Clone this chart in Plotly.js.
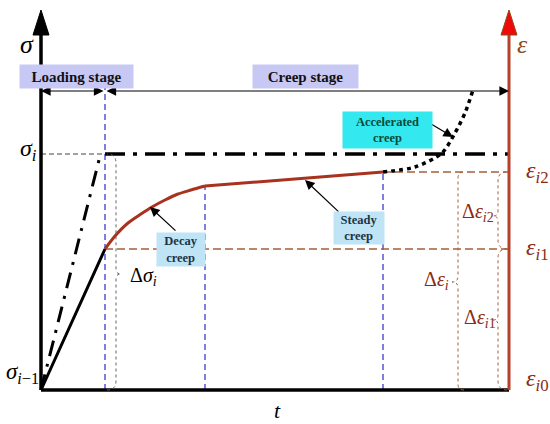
<!DOCTYPE html>
<html>
<head>
<meta charset="utf-8">
<script src="https://cdn.plot.ly/plotly-3.0.1.min.js"></script>
<style>
  html, body { margin: 0; padding: 0; background: #fff; }
  #chart { width: 550px; height: 424px; }
</style>
</head>
<body>
<div id="chart"></div>
<script>
// Creep schematic - time t on the bottom axis, stress / strain up the sides
// (1 unit = 1 px so the sketch keeps its proportions)

// key times
const tLoad = 64;      // end of loading stage
const tDecay = 164;    // end of decay creep
const tSteady = 342;   // end of steady creep
const tAxis = 468;     // right (strain) axis
const axisTop = 380;

// key levels
const sigmaI = 236;    // stress level sigma_i
const epsI1 = 141;     // strain eps_i1
const epsI2 = 218;     // strain eps_i2
const stageRow = 299;  // stage arrows

// curves
const loadT = [0, tLoad];
const loadS = [0, epsI1];
const instT = [0, 58];
const instS = [0, 230];
const decayT = [64, 74, 87, 100, 111, 124, 137, 150, 164];
const decayS = [141, 154, 167, 176, 183, 190, 196, 200, 204];
const steadyT = [164, 342];
const steadyS = [204, 218];
const accelT = [342, 374, 401, 414, 424, 432];
const accelS = [218, 223, 237, 257, 277, 300];

const SERIF = 'Liberation Serif, Times New Roman, serif';
const RED = '#a8321e';
const BROWN = '#a5603a';
const BLUE = '#3a3ad6';

function line(x, y, color, width, dash, shape) {
    return {
        x: x, y: y, type: 'scatter', mode: 'lines', hoverinfo: 'skip',
        line: { color: color, width: width, dash: dash || 'solid', shape: shape || 'linear', smoothing: 0.8 }
    };
}

function arrowHead(x, yTip, color, edge) {
    // upright triangle for the vertical axes
    return {
        x: [x - 8, x, x + 8, x - 8], y: [yTip - 25, yTip, yTip - 25, yTip - 25],
        type: 'scatter', mode: 'lines', fill: 'toself', fillcolor: color,
        line: { color: edge || color, width: 1 }, hoverinfo: 'skip'
    };
}

// curly brace drawn as an svg path in data units
function brace(bx, y0, y1, ym, dir, rEnd, rTip) {
    const e = bx + dir * rEnd, tp = bx - dir * rTip;
    return 'M' + e + ',' + y0 +
        ' Q' + bx + ',' + y0 + ' ' + bx + ',' + (y0 + rEnd) +
        ' L' + bx + ',' + (ym - rTip) +
        ' Q' + bx + ',' + ym + ' ' + tp + ',' + ym +
        ' Q' + bx + ',' + ym + ' ' + bx + ',' + (ym + rTip) +
        ' L' + bx + ',' + (y1 - rEnd) +
        ' Q' + bx + ',' + y1 + ' ' + e + ',' + y1;
}

const data = [
    // guide lines
    line([tLoad, tLoad], [0, 305], BLUE, 1.3, '6px,4px'),
    line([tDecay, tDecay], [0, decayS[decayS.length - 1]], BLUE, 1.3, '6px,4px'),
    line([tSteady, tSteady], [0, steadyS[1]], BLUE, 1.3, '6px,4px'),
    line([tLoad, tAxis], [epsI1, epsI1], BROWN, 1.3, '8px,4px'),
    line([tSteady, tAxis], [epsI2, epsI2], BROWN, 1.3, '8px,4px'),
    line([0, tLoad], [sigmaI, sigmaI], '#444', 1, '5px,3px'),
    line([tLoad, tAxis], [sigmaI, sigmaI], '#000', 3.5, '20px,8px,4px,8px'),
    // loading lines
    line(instT, instS, '#000', 3, '16px,8px,3px,8px'),
    line(loadT, loadS, '#000', 3),
    // creep curve
    line(decayT, decayS, RED, 3, 'solid', 'spline'),
    line(steadyT, steadyS, RED, 3),
    line(accelT, accelS, '#000', 3.5, '4px,4px', 'spline'),
    // axes
    line([0, 0], [0, axisTop - 22], '#000', 3.5),
    line([0, tAxis], [0, 0], '#000', 3.5),
    line([tAxis, tAxis], [0, axisTop - 22], '#b5412a', 3),
    arrowHead(0, axisTop, '#000'),
    arrowHead(tAxis, axisTop, '#ee0a0a', '#8b4a1a')
];

const shapes = [
    { type: 'path', xref: 'x', yref: 'y', path: brace(75, 0, sigmaI, 116, -1, 9, 5),
      line: { color: '#666', width: 1, dash: 'dot' } },
    { type: 'path', xref: 'x', yref: 'y', path: brace(417, 0, epsI2, 108, 1, 6, 6),
      line: { color: BROWN, width: 1, dash: 'dot' } },
    { type: 'path', xref: 'x', yref: 'y', path: brace(457, epsI1, epsI2, 174, 1, 9, 5),
      line: { color: BROWN, width: 1, dash: 'dot' } },
    { type: 'path', xref: 'x', yref: 'y', path: brace(457, 0, epsI1, 70, 1, 9, 5),
      line: { color: BROWN, width: 1, dash: 'dot' } }
];

function label(x, y, text, size, color, extra) {
    return Object.assign({
        x: x, y: y, xref: 'x', yref: 'y', text: text, showarrow: false,
        font: { family: SERIF, size: size, color: color || '#000' }
    }, extra || {});
}

function pointer(x, y, ax, ay, extra) {
    return Object.assign({
        x: x, y: y, ax: ax, ay: ay, xref: 'x', yref: 'y', axref: 'x', ayref: 'y',
        text: '', showarrow: true, arrowhead: 2, arrowsize: 1.6, arrowwidth: 1.2,
        arrowcolor: '#000', standoff: 0
    }, extra || {});
}

const EPS = '#8b2a14';

const annotations = [
    // stage arrows
    pointer(0, stageRow, tLoad, stageRow, { arrowside: 'end+start', startarrowhead: 2, startarrowsize: 1.6 }),
    pointer(tAxis, stageRow, tLoad, stageRow, { arrowside: 'end+start', startarrowhead: 2, startarrowsize: 1.6 }),
    // stage boxes
    label(35.5, 313.5, '<b>Loading stage</b>', 15, '#111',
        { bgcolor: '#c8c8f4', width: 113, height: 23, borderpad: 0 }),
    label(264.5, 313.5, '<b>Creep stage</b>', 15, '#111',
        { bgcolor: '#c8c8f4', width: 105, height: 23, borderpad: 0 }),
    // creep phase pointers
    pointer(109, 183, 136, 158),
    pointer(264, 210, 299, 177),
    pointer(412, 253, 387, 268),
    label(140, 141, '<b>Decay<br>creep</b>', 12.5, '#1b3446',
        { bgcolor: '#bfe4f5', width: 48, height: 33, borderpad: 0 }),
    label(318, 162, '<b>Steady<br>creep</b>', 12.5, '#1b3446',
        { bgcolor: '#bfe4f5', width: 50, height: 32, borderpad: 0 }),
    label(346.5, 260, '<b>Accelerated<br>creep</b>', 12.5, '#0d4a3a',
        { bgcolor: '#33e8ef', width: 89, height: 36, borderpad: 0 }),
    // axis symbols
    label(-14, 346, '<i>σ</i>', 26),
    label(-13, 240, '<i>σ</i><sub><i>i</i></sub>', 24),
    label(-19, 17, '<i>σ</i><sub><i>i</i>−1</sub>', 23),
    label(236, -20, '<i>t</i>', 22),
    label(481, 346, '<i>ε</i>', 26, '#8b4a1a'),
    label(496, 218, '<i>ε</i><sub><i>i</i>2</sub>', 24, EPS),
    label(496, 141, '<i>ε</i><sub><i>i</i>1</sub>', 24, EPS),
    label(496, 10, '<i>ε</i><sub><i>i</i>0</sub>', 24, EPS),
    // increments
    label(102, 114, 'Δ<i>σ</i><sub><i>i</i></sub>', 20),
    label(395, 110, 'Δ<i>ε</i><sub><i>i</i></sub>', 20, EPS),
    label(437, 178, 'Δ<i>ε</i><sub><i>i</i>2</sub>', 20, EPS),
    label(439, 72, 'Δ<i>ε</i><sub><i>i</i>1</sub>', 20, EPS)
];

const layout = {
    width: 550, height: 424,
    margin: { l: 0, r: 0, t: 0, b: 0 },
    paper_bgcolor: '#fff', plot_bgcolor: '#fff',
    showlegend: false,
    font: { family: SERIF },
    xaxis: { range: [-41, 509], visible: false, fixedrange: true },
    yaxis: { range: [-34, 390], visible: false, fixedrange: true },
    shapes: shapes,
    annotations: annotations,
    hovermode: false
};

Plotly.newPlot('chart', data, layout, { displayModeBar: false });
</script>
</body>
</html>
